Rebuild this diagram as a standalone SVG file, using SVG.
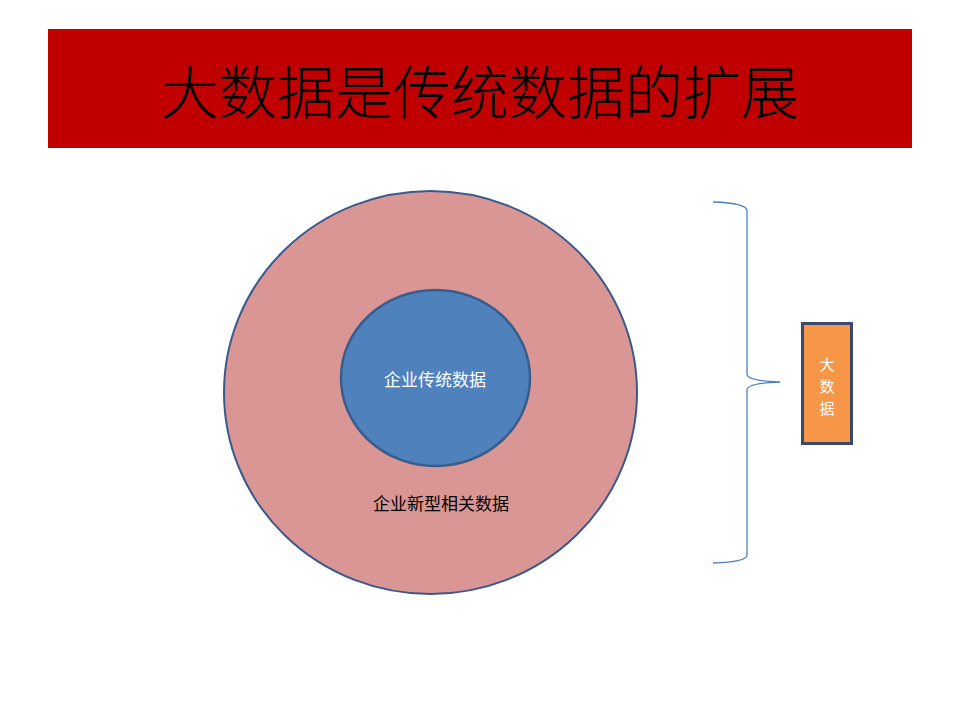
<svg xmlns="http://www.w3.org/2000/svg" width="960" height="720" viewBox="0 0 960 720">
<style>
.t{font-family:"Noto Sans CJK SC","Noto Sans",sans-serif;text-anchor:middle;dominant-baseline:central}
</style>
<rect width="960" height="720" fill="#ffffff"/>
<g id="title">
<rect x="48" y="29" width="864" height="119" fill="#C00000"/>
<text class="t" x="480" y="89" font-size="58" fill="#000000" font-weight="300">大数据是传统数据的扩展</text>
</g>
<g id="outer">
<ellipse cx="430.5" cy="392.5" rx="206.5" ry="201.5" fill="#D99694" stroke="#3B5A8C" stroke-width="2"/>
<text class="t" x="441" y="502" font-size="17" fill="#000000">企业新型相关数据</text>
</g>
<g id="inner">
<ellipse cx="435.5" cy="378" rx="94.5" ry="88" fill="#4F81BD" stroke="#385D8A" stroke-width="2.5"/>
<text class="t" x="435" y="378" font-size="17" fill="#ffffff">企业传统数据</text>
</g>
<g id="connectors">
<path d="M713 202 Q747 203 747 211 L747 374 Q747 381 780 382 Q747 383 747 390 L747 555 Q747 562 713 563" fill="none" stroke="#4F81BD" stroke-width="1.3"/>
</g>
<g id="bigdata">
<rect x="802.5" y="323.5" width="49" height="120" fill="#F79646" stroke="#3B4A6B" stroke-width="3"/>
<text class="t" x="827" y="363" font-size="15" fill="#ffffff">大</text>
<text class="t" x="827" y="385" font-size="15" fill="#ffffff">数</text>
<text class="t" x="827" y="407" font-size="15" fill="#ffffff">据</text>
</g>
</svg>
